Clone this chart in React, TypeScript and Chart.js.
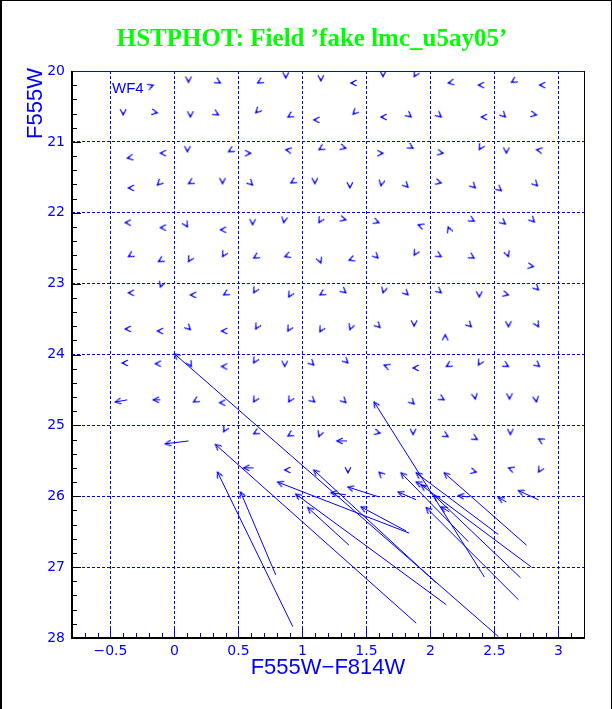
import React, { useEffect, useRef } from "react";
import { Chart, registerables } from "chart.js";

Chart.register(...registerables);

const BLUE = "#0000ff";
const GREEN = "#00ff00";

const TITLE_TEXT = "HSTPHOT: Field \u2019fake lmc_u5ay05\u2019";
const X_TITLE = "F555W\u2212F814W";
const Y_TITLE = "F555W";
const CHIP_LABEL = "WF4";

const X_MIN = -0.8;
const X_MAX = 3.2;
const Y_MIN = 20;
const Y_MAX = 28;
const X_LABELS = [-0.5, 0, 0.5, 1, 1.5, 2, 2.5, 3];
const Y_LABELS = [20, 21, 22, 23, 24, 25, 26, 27, 28];
const X_GRID = [-0.5, 0, 0.5, 1, 1.5, 2, 2.5, 3];
const Y_GRID = [21, 22, 23, 24, 25, 26, 27];

// Small (barely moved) fake stars: measured position and arrow direction (deg, counter-clockwise from +x on screen)
const smallX = [
  -0.165, 0.11, 0.36, 0.65, 0.87, 1.144, 1.379, 1.63, 1.873, 2.139, 2.375, 2.633, 2.853,
  -0.4, -0.133, 0.125, 0.345, 0.635, 0.886, 1.089, 1.395, 1.614, 1.85, 2.085, 2.398, 2.586, 2.829,
  -0.368, -0.11, 0.102, 0.423, 0.596, 0.87, 1.129, 1.34, 1.63, 1.865, 2.1, 2.382, 2.594, 2.829,
  -0.36, -0.133, 0.11, 0.376, 0.611, 0.909, 1.097, 1.371, 1.614, 1.826, 2.085, 2.351, 2.555, 2.837,
  -0.384, -0.11, 0.102, 0.36, 0.611, 0.854, 1.129, 1.34, 1.599, 1.904, 2.139, 2.343, 2.586, 2.813,
  -0.36, -0.125, 0.11, 0.376, 0.619, 0.862, 1.144, 1.364, 1.591, 1.873, 2.085, 2.343, 2.61, 2.806,
  -0.36, -0.11, 0.125, 0.384, 0.619, 0.893, 1.136, 1.34, 1.63, 1.826, 2.085, 2.382, 2.61, 2.845,
  -0.384, -0.133, 0.125, 0.368, 0.635, 0.886, 1.136, 1.371, 1.607, 1.873, 2.116, 2.32, 2.61, 2.845,
  -0.408, -0.149, 0.133, 0.368, 0.619, 0.862, 1.089, 1.356, 1.638, 1.865, 2.124, 2.375, 2.61, 2.853,
  0.149, 0.353, 0.619, 0.893, 1.097, 1.34, 1.873, 2.108, 2.351, 2.618, 2.829,
  0.384, 0.619, 0.886, 1.129, 1.607, 1.865, 2.139, 2.367, 2.625, 2.845,
  0.862, 1.356, 1.599, 2.359, 2.61, 2.845,
];
const smallY = [
  20.2, 20.16, 20.17, 20.17, 20.1, 20.14, 20.17, 20.08, 20.08, 20.17, 20.2, 20.16, 20.2,
  20.62, 20.59, 20.65, 20.62, 20.59, 20.65, 20.69, 20.61, 20.65, 20.65, 20.65, 20.65, 20.65, 20.62,
  21.23, 21.16, 21.14, 21.14, 21.16, 21.11, 21.11, 21.09, 21.16, 21.09, 21.16, 21.11, 21.16, 21.11,
  21.65, 21.61, 21.59, 21.59, 21.61, 21.58, 21.59, 21.65, 21.62, 21.64, 21.58, 21.65, 21.69, 21.62,
  22.14, 22.21, 22.2, 22.24, 22.17, 22.14, 22.14, 22.1, 22.14, 22.17, 22.2, 22.12, 22.16, 22.13,
  22.62, 22.69, 22.69, 22.62, 22.64, 22.62, 22.71, 22.67, 22.64, 22.6, 22.62, 22.64, 22.62, 22.76,
  23.13, 23.05, 23.16, 23.16, 23.13, 23.19, 23.16, 23.13, 23.13, 23.16, 23.13, 23.19, 23.16, 23.09,
  23.64, 23.67, 23.65, 23.67, 23.64, 23.67, 23.68, 23.65, 23.62, 23.6, 23.72, 23.61, 23.61, 23.61,
  24.12, 24.13, 24.17, 24.17, 24.12, 24.17, 24.15, 24.12, 24.15, 24.19, 24.17, 24.15, 24.17, 24.17,
  24.67, 24.68, 24.67, 24.67, 24.67, 24.68, 24.7, 24.64, 24.63, 24.63, 24.67,
  25.09, 25.12, 25.15, 25.16, 25.11, 25.13, 25.16, 25.2, 25.13, 25.19,
  25.63, 25.67, 25.66, 25.66, 25.6, 25.66,
];
const smallDir = [
  20, 270, 330, 210, 270, 270, 180, 270, 240, 190, 180, 210, 180,
  270, 350, 270, 330, 225, 210, 180, 225, 180, 320, 320, 180, 315, 350,
  190, 180, 270, 210, 0, 170, 210, 345, 0, 330, 350, 240, 270, 170,
  180, 225, 210, 270, 315, 210, 270, 270, 260, 315, 345, 315, 320, 315,
  180, 180, 300, 180, 270, 260, 240, 345, 340, 160, 110, 330, 320, 315,
  210, 210, 240, 240, 210, 200, 290, 200, 315, 240, 330, 330, 290, 350,
  180, 250, 180, 210, 240, 240, 210, 320, 255, 315, 320, 270, 345, 315,
  180, 180, 315, 180, 240, 240, 240, 250, 315, 270, 90, 315, 270, 300,
  180, 180, 300, 180, 240, 270, 315, 315, 160, 180, 210, 240, 330, 320,
  210, 180, 240, 240, 320, 315, 315, 330, 280, 270, 280,
  240, 210, 210, 250, 345, 270, 330, 330, 270, 150,
  180, 270, 135, 345, 160, 240,
];

// Stars with a visible displacement: measured (head) and input (tail) positions
const moveHeadX = [0, 0.321, 0.337, 0.517, 0.807, 1.56, 1.089, 0.948, 1.042, 1.458, 1.771, 1.889, 1.928, 1.967, 2.03, 2.108,
  -0.462, -0.165, -0.071, 0.541, 1.27, 1.356, 1.748, 2.218, 2.531, 2.688, 2.085, 1.223, 1.889];
const moveHeadY = [23.99, 25.27, 25.66, 25.94, 25.8, 24.67, 25.63, 25.97, 26.16, 26.15, 25.67, 25.67, 25.84, 26.16, 25.99, 25.67,
  24.67, 24.64, 25.26, 25.6, 25.22, 25.87, 25.94, 25.99, 26.02, 25.92, 26.15, 25.95, 25.8];
const moveTailX = [2.531, 1.889, 0.925, 0.792, 1.834, 2.422, 2.045, 2.124, 1.364, 1.81, 2.296, 2.531, 2.79, 2.688, 2.704, 2.751,
  -0.368, -0.11, 0.11, 0.619, 1.348, 1.599, 1.889, 2.296, 2.594, 2.845, 2.147, 1.34, 1.967];
const moveTailY = [27.98, 27.79, 27.84, 27.11, 26.52, 27.14, 27.22, 27.53, 26.69, 26.49, 26.64, 26.54, 27.0, 27.46, 27.15, 26.69,
  24.64, 24.64, 25.22, 25.6, 25.22, 26.01, 26.05, 26.01, 26.08, 26.05, 26.22, 25.98, 25.87];

const near = (a: number, b: number) => Math.abs(a - b) < 1e-6;
const isIn = (list: number[], v: number) => list.some((t) => near(t, v));
const fmt = (v: number) => String(v).replace("-", "\u2212");

function makeHead(len: number, halfDeg: number, shaft: number): HTMLCanvasElement {
  const size = 2 * Math.ceil(len + shaft) + 4;
  const c = document.createElement("canvas");
  c.width = size;
  c.height = size;
  const g = c.getContext("2d")!;
  const m = size / 2;
  const h = (halfDeg * Math.PI) / 180;
  g.strokeStyle = BLUE;
  g.lineWidth = 1.2;
  g.lineCap = "round";
  g.beginPath();
  g.moveTo(m - len * Math.cos(h), m - len * Math.sin(h));
  g.lineTo(m, m);
  g.lineTo(m - len * Math.cos(h), m + len * Math.sin(h));
  if (shaft > 0) {
    g.moveTo(m, m);
    g.lineTo(m - shaft, m);
  }
  g.stroke();
  return c;
}

const framePlugin = {
  id: "frame",
  afterDraw(chart: any) {
    const { ctx, chartArea: a, scales } = chart;
    const xs = scales.x;
    const ys = scales.y;
    ctx.save();
    // inward tick marks
    ctx.lineWidth = 1;
    ctx.strokeStyle = BLUE;
    ctx.beginPath();
    for (const t of xs.ticks) {
      const v = t.value;
      if (v <= X_MIN + 1e-6 || v >= X_MAX - 1e-6) continue;
      const px = Math.round(xs.getPixelForValue(v)) + 0.5;
      const len = isIn(X_GRID, v) ? 9 : 5;
      ctx.moveTo(px, a.bottom);
      ctx.lineTo(px, a.bottom - len);
    }
    ctx.stroke();
    ctx.strokeStyle = "#000";
    ctx.beginPath();
    for (const t of ys.ticks) {
      const v = t.value;
      if (v <= Y_MIN + 1e-6 || v >= Y_MAX - 1e-6) continue;
      const py = Math.round(ys.getPixelForValue(v)) + 0.5;
      const len = isIn(Y_GRID, v) ? 9 : 5;
      ctx.moveTo(a.left, py);
      ctx.lineTo(a.left + len, py);
    }
    ctx.stroke();
    // frame
    ctx.fillStyle = BLUE;
    ctx.fillRect(a.left, a.top, a.right - a.left, 1);
    ctx.fillStyle = "#000";
    ctx.fillRect(a.right, a.top, 1, a.bottom - a.top);
    ctx.fillRect(a.left - 1, a.top, 2, a.bottom - a.top + 1);
    ctx.fillRect(a.left - 1, a.bottom - 1, a.right - a.left + 2, 2);
    // chip label
    ctx.fillStyle = BLUE;
    ctx.font = '15px "Liberation Sans"';
    ctx.textAlign = "left";
    ctx.textBaseline = "alphabetic";
    ctx.fillText(CHIP_LABEL, a.left + 40, a.top + 22);
    // main title
    ctx.fillStyle = GREEN;
    ctx.font = 'bold 25px "Liberation Serif"';
    ctx.textAlign = "center";
    ctx.fillText(TITLE_TEXT, 312, 46);
    // y-axis title
    ctx.save();
    ctx.translate(36, a.top - 3);
    ctx.rotate(-Math.PI / 2);
    ctx.textAlign = "right";
    ctx.textBaseline = "middle";
    ctx.font = '22px "Liberation Sans"';
    ctx.fillStyle = BLUE;
    ctx.fillText(Y_TITLE, 0, 0);
    ctx.restore();
    ctx.restore();
  },
};

export default function App() {
  const ref = useRef<HTMLCanvasElement>(null);
  useEffect(() => {
    document.body.style.margin = "0";
    const canvas = ref.current!;
    const longHead = makeHead(6, 27, 0);
    const smallHead = makeHead(6, 27, 2);

    const shaftSets = moveHeadX.map((hx, i) => ({
      data: [
        { x: moveTailX[i], y: moveTailY[i] },
        { x: hx, y: moveHeadY[i] },
      ],
      showLine: true,
      borderColor: BLUE,
      borderWidth: 1,
      pointRadius: 0,
      pointHoverRadius: 0,
    }));

    const headSet = {
      data: moveHeadX.map((x, i) => ({ x, y: moveHeadY[i] })),
      showLine: false,
      pointStyle: longHead,
      pointRadius: 6,
      pointRotation: (c: any) => {
        const i = c.dataIndex;
        const sx = c.chart.scales.x;
        const sy = c.chart.scales.y;
        const dx = sx.getPixelForValue(moveHeadX[i]) - sx.getPixelForValue(moveTailX[i]);
        const dy = sy.getPixelForValue(moveHeadY[i]) - sy.getPixelForValue(moveTailY[i]);
        return (Math.atan2(dy, dx) * 180) / Math.PI;
      },
    };

    const smallSet = {
      data: smallX.map((x, i) => ({ x, y: smallY[i] })),
      showLine: false,
      pointStyle: smallHead,
      pointRadius: 6,
      pointRotation: (c: any) => -smallDir[c.dataIndex],
    };

    const chart = new Chart(canvas, {
      type: "scatter",
      data: { datasets: [...shaftSets, headSet, smallSet] as any },
      options: {
        responsive: false,
        animation: false,
        events: [],
        layout: { padding: { top: 71, right: 28, left: 0, bottom: 0 } },
        plugins: {
          legend: { display: false },
          tooltip: { enabled: false },
          title: { display: false },
        },
        scales: {
          x: {
            type: "linear",
            min: X_MIN,
            max: X_MAX,
            afterFit: (s: any) => {
              s.height = 71;
            },
            border: { display: false, dash: [3, 2] },
            grid: {
              drawTicks: false,
              lineWidth: 1,
              color: (c: any) => (c.tick && isIn(X_GRID, c.tick.value) ? BLUE : "rgba(0,0,0,0)"),
            },
            ticks: {
              stepSize: 0.1,
              autoSkip: false,
              maxRotation: 0,
              padding: 5,
              color: BLUE,
              font: { family: "DejaVu Sans", size: 14 },
              callback: (v: any) => (isIn(X_LABELS, Number(v)) ? fmt(Math.round(Number(v) * 10) / 10) : ""),
            },
            title: {
              display: true,
              text: X_TITLE,
              color: BLUE,
              font: { family: "Liberation Sans", size: 22 },
              padding: { top: 0, bottom: 28 },
            },
          },
          y: {
            type: "linear",
            reverse: true,
            min: Y_MIN,
            max: Y_MAX,
            afterFit: (s: any) => {
              s.width = 72;
            },
            border: { display: false, dash: [3, 2] },
            grid: {
              drawTicks: false,
              lineWidth: 1,
              color: (c: any) => (c.tick && isIn(Y_GRID, c.tick.value) ? BLUE : "rgba(0,0,0,0)"),
            },
            ticks: {
              stepSize: 0.2,
              autoSkip: false,
              padding: 7,
              color: BLUE,
              font: { family: "DejaVu Sans", size: 14 },
              callback: (v: any) => (isIn(Y_LABELS, Number(v)) ? String(Math.round(Number(v))) : ""),
            },
          },
        },
      } as any,
      plugins: [framePlugin],
    });
    return () => chart.destroy();
  }, []);

  return (
    <div style={{ position: "relative", width: 612, height: 709, background: "#fff", overflow: "hidden" }}>
      <canvas ref={ref} width={612} height={709} style={{ display: "block", width: 612, height: 709 }} />
      <div
        style={{
          position: "absolute",
          left: 0,
          top: 0,
          width: 612,
          height: 709,
          boxSizing: "border-box",
          borderLeft: "2px solid #000",
          borderTop: "1px solid #000",
          borderRight: "1px solid #000",
          pointerEvents: "none",
        }}
      />
    </div>
  );
}
